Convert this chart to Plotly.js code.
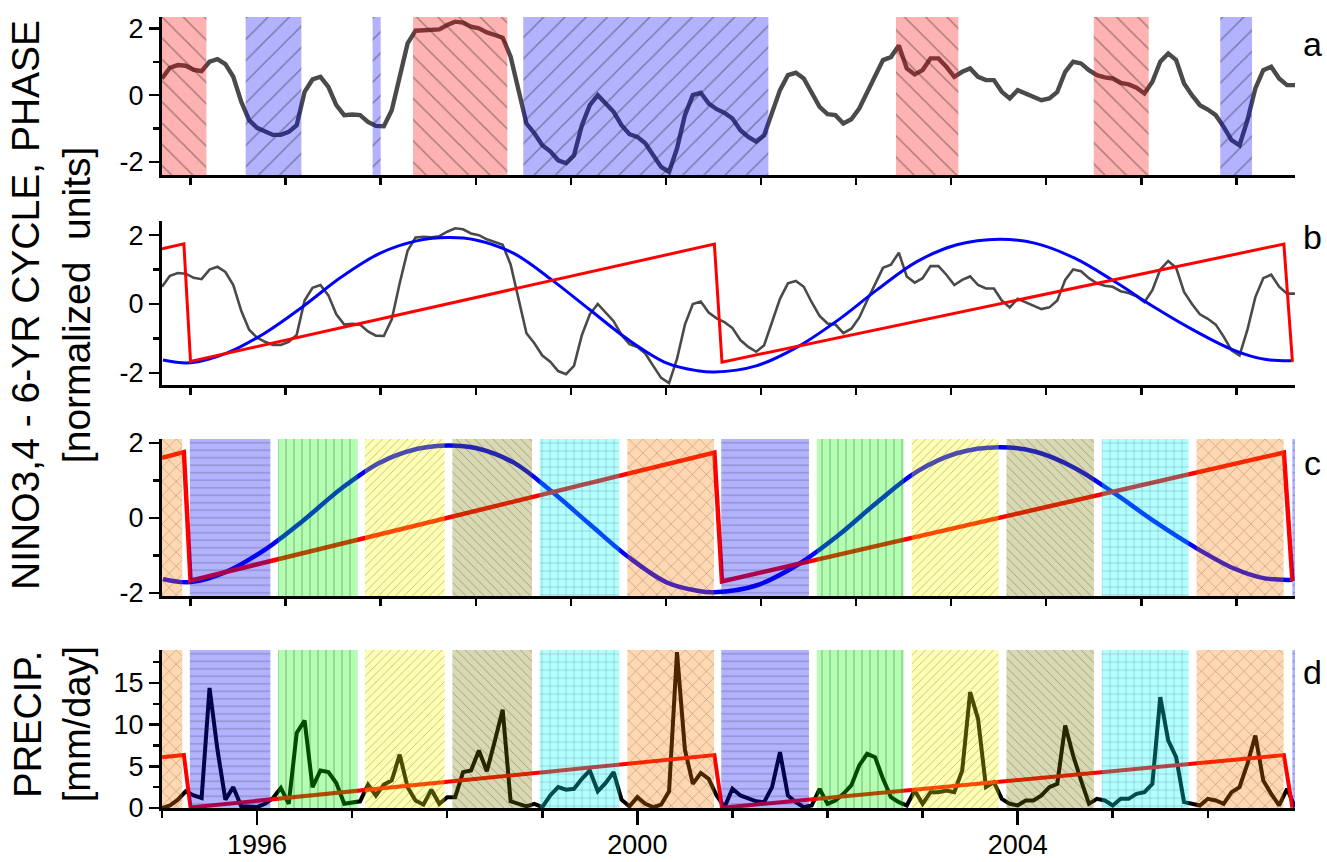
<!DOCTYPE html>
<html><head><meta charset="utf-8">
<script src="https://cdn.plot.ly/plotly-3.0.1.min.js"></script>
<style>html,body{margin:0;padding:0;background:#fff}#chart{width:1327px;height:862px}</style>
</head><body><div id="chart"></div>
<script>
// ---------------- DATA ----------------
const startYear = 1995;            // first month of the monthly series (Jan 1995)
// NINO3.4 index, normalized, monthly Jan 1995 .. Dec 2006
const ninoIndex = [
  0.5, 0.82, 0.9, 0.88, 0.76, 0.72, 1.0, 1.08, 0.93, 0.55,
  -0.2, -0.75, -0.98, -1.1, -1.19, -1.19, -1.1, -0.9, 0.1, 0.47,
  0.55, 0.25, -0.3, -0.6, -0.58, -0.6, -0.8, -0.92, -0.93, -0.45,
  0.6, 1.55, 1.93, 1.95, 1.94, 1.97, 2.1, 2.2, 2.17, 2.05,
  2.0, 1.88, 1.8, 1.72, 1.15, 0.15, -0.85, -1.14, -1.5, -1.68,
  -1.95, -2.04, -1.8, -0.9, -0.3, 0.0, -0.25, -0.5, -0.9, -1.17,
  -1.25, -1.44, -1.8, -2.15, -2.3, -1.6, -0.6, 0.0, 0.07, -0.25,
  -0.42, -0.53, -0.7, -1.05, -1.25, -1.39, -1.2, -0.5, 0.15, 0.6,
  0.67, 0.5, 0.05, -0.35, -0.57, -0.6, -0.85, -0.72, -0.4, 0.1,
  0.6, 1.05, 1.14, 1.49, 0.8, 0.62, 0.75, 1.1, 1.1, 0.85,
  0.55, 0.7, 0.8, 0.55, 0.45, 0.45, 0.1, -0.1, 0.15, 0.05,
  -0.05, -0.15, -0.1, 0.1, 0.7, 1.0, 0.95, 0.75, 0.6, 0.53,
  0.5, 0.37, 0.32, 0.22, 0.05, 0.4, 1.0, 1.25, 1.05, 0.35,
  0.0, -0.3, -0.43, -0.6, -0.95, -1.35, -1.5, -0.75, 0.2, 0.75,
  0.85, 0.5, 0.3, 0.3
];
// Precipitation [mm/day], monthly Jan 1995 .. Dec 2006
const precip = [
  0.0, 0.3, 1.0, 2.0, 1.5, 1.2, 14.4, 7.0, 1.0, 2.5,
  0.2, 0.1, 0.1, 0.5, 1.2, 2.4, 0.5, 9.0, 10.5, 2.5,
  4.5, 4.3, 3.0, 0.5, 0.6, 0.8, 2.8, 1.5, 2.8, 3.3,
  6.4, 2.5, 0.9, 0.4, 2.2, 0.5, 1.3, 1.3, 4.3, 4.5,
  6.9, 4.4, 8.0, 11.8, 0.8, 0.5, 0.2, 0.5, 0.1, 1.5,
  2.5, 2.2, 2.3, 3.5, 4.5, 2.0, 3.0, 4.3, 1.0, 0.2,
  1.3, 0.5, 0.1, 0.4, 2.0, 18.7, 7.0, 2.9, 4.2, 3.5,
  1.5, 0.1, 2.3, 1.5, 1.1, 0.8, 0.7, 2.5, 6.7, 1.5,
  0.7, 0.1, 0.3, 2.3, 0.5, 0.9, 1.7, 2.7, 5.1, 6.5,
  6.1, 3.5, 1.3, 0.7, 0.3, 2.1, 0.5, 1.9, 1.9, 2.1,
  1.9, 4.5, 13.9, 10.7, 2.5, 3.1, 1.1, 0.5, 0.3, 0.9,
  0.9, 1.5, 2.5, 2.9, 9.9, 6.3, 3.3, 0.5, 1.1, 0.9,
  0.3, 1.1, 1.1, 1.7, 1.9, 2.9, 13.3, 8.1, 6.1, 0.7,
  0.5, 0.3, 1.1, 0.9, 0.5, 1.9, 2.5, 5.3, 8.7, 3.3,
  1.7, 0.3, 2.3, 0.1
];
// 6-yr cycle (blue curve)
const cycleYears = [1995.01, 1995.30, 1995.68, 1996.08, 1996.48, 1996.89, 1997.29, 1997.69, 1998.01, 1998.30,
  1998.70, 1999.10, 1999.50, 1999.91, 2000.31, 2000.63, 2000.81, 2001.25, 2001.69, 2002.11,
  2002.52, 2002.94, 2003.36, 2003.81, 2004.19, 2004.60, 2005.02, 2005.43, 2005.85, 2006.27,
  2006.60, 2006.89];
const cycleValues = [-1.63, -1.71, -1.43, -0.85, -0.08, 0.79, 1.47, 1.84, 1.93, 1.86,
  1.47, 0.70, -0.17, -1.05, -1.72, -1.94, -1.98, -1.80, -1.24, -0.47,
  0.41, 1.23, 1.72, 1.88, 1.76, 1.33, 0.65, -0.08, -0.76, -1.34,
  -1.61, -1.65];
// phase of the cycle (red sawtooth), vertices
const phaseYears  = [1995.0, 1995.23, 1995.30, 2000.81, 2000.89, 2006.80, 2006.89];
const phaseValues = [1.60, 1.75, -1.67, 1.74, -1.69, 1.74, -1.68];
// phase in panel d is shown in radians: rad = phase*phaseToRad + phaseOffset
const phaseToRad = 1.842, phaseOffset = 3.14;
// ENSO episodes (panel a)
const ensoStart = [1995.0, 1995.88, 1997.215, 1997.64, 1998.80, 2002.72, 2004.80, 2006.131];
const ensoEnd   = [1995.467, 1996.466, 1997.30, 1998.632, 2001.378, 2003.376, 2005.378, 2006.465];
const ensoKind  = ['El Nino', 'La Nina', 'La Nina', 'El Nino', 'La Nina', 'El Nino', 'El Nino', 'La Nina'];
// phase sectors of the cycle (panels c, d)
const sectorStart = [1995.0, 1995.293, 1996.22, 1997.135, 1998.054, 1998.972, 1999.895, 2000.882, 2001.889, 2002.886, 2003.882, 2004.885, 2005.882, 2006.889];
const sectorEnd   = [1995.213, 1996.14, 1997.055, 1997.973, 1998.892, 1999.81, 2000.806, 2001.805, 2002.802, 2003.80, 2004.802, 2005.799, 2006.797, 2006.917];
const sectorPhase = [6, 1, 2, 3, 4, 5, 6, 1, 2, 3, 4, 5, 6, 1];
const xTickYears = [1996, 2000, 2004];
const xTickLabels = ['1996', '2000', '2004'];
const panelLetters = ['a', 'b', 'c', 'd'];

// ---------------- STYLE ----------------
const FONT = 'Liberation Sans, Arial, sans-serif';
const X_RANGE = [1995, 2006.917];
const UPPER_SHIFT = 0.3;   // tick offset of the upper three panels
const ensoStyle = {
  'El Nino': {fill: 'rgba(255,0,0,0.3)', shape: '\\'},
  'La Nina': {fill: 'rgba(0,0,255,0.3)', shape: '/'}
};
const sectorStyle = {
  1: {fill: 'rgba(0,0,255,0.3)', shape: '-', size: 7.5},
  2: {fill: 'rgba(0,255,0,0.3)', shape: '|', size: 8},
  3: {fill: 'rgba(255,255,0,0.3)', shape: '/', size: 6},
  4: {fill: 'rgba(128,128,0,0.3)', shape: '\\', size: 6.5},
  5: {fill: 'rgba(0,255,255,0.3)', shape: '+', size: 8},
  6: {fill: 'rgba(255,128,0,0.3)', shape: 'x', size: 10}
};

const months = ninoIndex.map((_, i) => startYear + i / 12);
const Y = {
  a: [-2.39, 2.34], b: [-2.355, 2.4], c: [-2.08, 2.10], d: [0, 18.95]
};
const Y5 = [(Y.d[0] - phaseOffset) / phaseToRad, (Y.d[1] - phaseOffset) / phaseToRad];

function band(x0, x1, yr, xa, ya, fill, shape, size, opac) {
  return {
    type: 'scatter', mode: 'lines', xaxis: xa, yaxis: ya,
    x: [x0, x1, x1, x0, x0], y: [yr[0], yr[0], yr[1], yr[1], yr[0]],
    fill: 'toself', fillcolor: fill, line: {width: 0, color: 'rgba(0,0,0,0)'},
    fillpattern: {shape: shape, bgcolor: fill, fgcolor: '#222', fgopacity: opac, size: size, solidity: 0.1},
    hoverinfo: 'skip', showlegend: false
  };
}

const traces = [];
// panel a
traces.push({type: 'scatter', mode: 'lines', x: months, y: ninoIndex, xaxis: 'x', yaxis: 'y',
  line: {color: '#4a4a4a', width: 4.4}, hoverinfo: 'skip', showlegend: false});
ensoStart.forEach((s, i) => {
  const st = ensoStyle[ensoKind[i]];
  traces.push(band(s, ensoEnd[i], Y.a, 'x', 'y', st.fill, st.shape, 15, 0.4));
});
// panel b
traces.push({type: 'scatter', mode: 'lines', x: months, y: ninoIndex, xaxis: 'x2', yaxis: 'y2',
  line: {color: '#4a4a4a', width: 2.6}, hoverinfo: 'skip', showlegend: false});
traces.push({type: 'scatter', mode: 'lines', x: cycleYears, y: cycleValues, xaxis: 'x2', yaxis: 'y2',
  line: {color: '#0000ff', width: 3, shape: 'spline', smoothing: 1}, hoverinfo: 'skip', showlegend: false});
traces.push({type: 'scatter', mode: 'lines', x: phaseYears, y: phaseValues, xaxis: 'x2', yaxis: 'y2',
  line: {color: '#ff0000', width: 3}, hoverinfo: 'skip', showlegend: false});
// panel c
traces.push({type: 'scatter', mode: 'lines', x: cycleYears, y: cycleValues, xaxis: 'x3', yaxis: 'y3',
  line: {color: '#0000ff', width: 4.5, shape: 'spline', smoothing: 1}, hoverinfo: 'skip', showlegend: false});
traces.push({type: 'scatter', mode: 'lines', x: phaseYears, y: phaseValues, xaxis: 'x3', yaxis: 'y3',
  line: {color: '#ff0000', width: 4.5}, hoverinfo: 'skip', showlegend: false});
sectorStart.forEach((s, i) => {
  const st = sectorStyle[sectorPhase[i]];
  traces.push(band(s, sectorEnd[i], Y.c, 'x3', 'y3', st.fill, st.shape, st.size, 0.45));
});
// panel d
traces.push({type: 'scatter', mode: 'lines', x: months, y: precip, xaxis: 'x4', yaxis: 'y4',
  line: {color: '#000000', width: 4}, hoverinfo: 'skip', showlegend: false});
traces.push({type: 'scatter', mode: 'lines', x: phaseYears, y: phaseValues, xaxis: 'x4', yaxis: 'y5',
  line: {color: '#ff0000', width: 4}, hoverinfo: 'skip', showlegend: false});
sectorStart.forEach((s, i) => {
  const st = sectorStyle[sectorPhase[i]];
  traces.push(band(s, sectorEnd[i], Y5, 'x4', 'y5', st.fill, st.shape, st.size, 0.45));
});

// ---------------- AXES ----------------
const allYears = [];
for (let yv = 1995; yv <= 2006; yv++) allYears.push(yv);

function xAxis(anchor, shift, showLabels) {
  return {
    anchor: anchor, range: X_RANGE, showgrid: false, zeroline: false,
    showline: true, linecolor: '#000', linewidth: 3,
    ticks: 'outside', ticklen: 14, tickwidth: 2.5, tickcolor: '#000',
    tickmode: 'array', tickvals: xTickYears.map(v => v + shift),
    ticktext: showLabels ? xTickLabels : xTickLabels.map(() => ''),
    showticklabels: showLabels,
    ticklabelstandoff: -3,
    tickfont: {family: FONT, size: 27, color: '#000'},
    minor: {tickmode: 'array', tickvals: allYears.map(v => v + shift), ticklen: 7, tickwidth: 2.5, tickcolor: '#000', ticks: 'outside', showgrid: false},
    fixedrange: true
  };
}
function yAxis(anchor, domain, range, vals, minorVals) {
  return {
    anchor: anchor, domain: domain, range: range, showgrid: false, zeroline: false,
    showline: true, linecolor: '#000', linewidth: 3,
    ticks: 'outside', ticklen: 10, tickwidth: 2.5, tickcolor: '#000',
    tickmode: 'array', tickvals: vals, ticktext: vals.map(v => String(v)),
    tickfont: {family: FONT, size: 27, color: '#000'},
    minor: {tickmode: 'array', tickvals: minorVals, ticklen: 6, tickwidth: 2.5, tickcolor: '#000', ticks: 'outside', showgrid: false},
    fixedrange: true
  };
}

const layout = {
  width: 1327, height: 862,
  margin: {l: 162, r: 32, t: 17, b: 54},
  paper_bgcolor: '#fff', plot_bgcolor: 'rgba(0,0,0,0)',
  showlegend: false,
  font: {family: FONT, color: '#000'},
  xaxis: xAxis('y', UPPER_SHIFT, false),
  xaxis2: xAxis('y2', UPPER_SHIFT, false),
  xaxis3: xAxis('y3', UPPER_SHIFT, false),
  xaxis4: xAxis('y4', 0, true),
  yaxis: yAxis('x', [0.8003, 1], Y.a, [-2, 0, 2], [-1, 1]),
  yaxis2: yAxis('x2', [0.5348, 0.7416], Y.b, [-2, 0, 2], [-1, 1]),
  yaxis3: yAxis('x3', [0.268, 0.4665], Y.c, [-2, 0, 2], [-1, 1]),
  yaxis4: yAxis('x4', [0, 0.1997], Y.d, [0, 5, 10, 15], [2.5, 7.5, 12.5, 17.5]),
  yaxis5: {overlaying: 'y4', anchor: 'x4', range: Y5, visible: false, fixedrange: true},
  annotations: [
    {text: 'NINO3,4 - 6-YR CYCLE, PHASE<br>[normalized\u00a0 units]', xref: 'paper', yref: 'paper',
      x: -0.098, y: 0.636, xanchor: 'center', yanchor: 'middle', textangle: -90, showarrow: false,
      font: {family: FONT, size: 39, color: '#000'}},
    {text: 'PRECIP.<br>[mm/day]', xref: 'paper', yref: 'paper',
      x: -0.097, y: 0.106, xanchor: 'center', yanchor: 'middle', textangle: -90, showarrow: false,
      font: {family: FONT, size: 38, color: '#000'}}
  ].concat(panelLetters.map((L, i) => ({
    text: L, xref: 'paper', yref: 'paper', x: 1.0155, y: [0.966, 0.722, 0.436, 0.172][i],
    xanchor: 'center', yanchor: 'middle', showarrow: false,
    font: {family: FONT, size: 34, color: '#000'}
  })))
};

Plotly.newPlot('chart', traces, layout, {displayModeBar: false, staticPlot: true});
</script>
</body></html>
